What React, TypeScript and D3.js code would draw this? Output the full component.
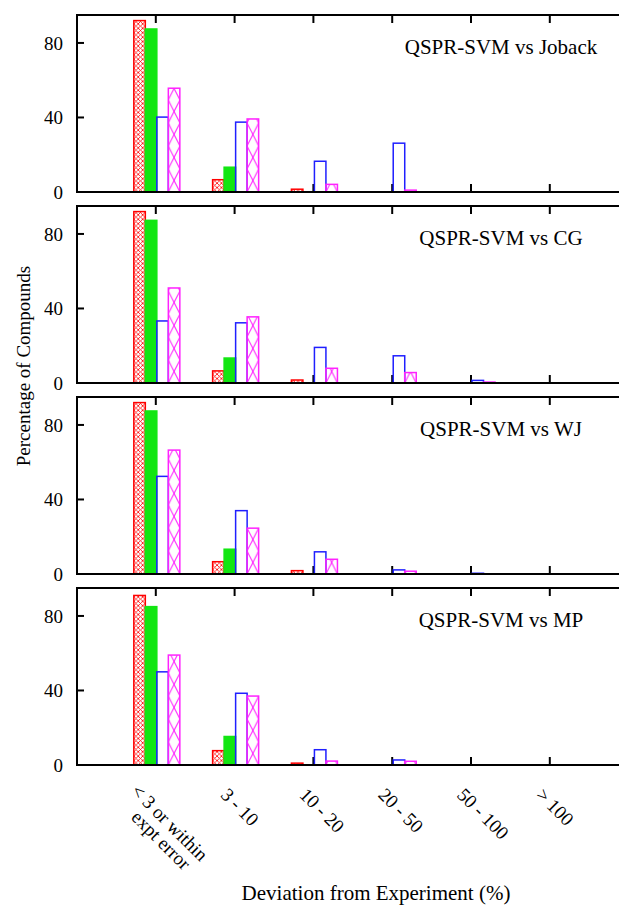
import React from "react";
import * as d3 from "d3";

const categories = ["< 3 or within\nexpt error", "3 - 10", "10 - 20", "20 - 50", "50 - 100", "> 100"];
const seriesKeys = ["dense", "solid", "empty", "cross"];
const seriesColors = ["#ff0000", "#12e612", "#1f1fff", "#ff22ff"];
const yTicks = [0, 40, 80];
const panelTitles = ["QSPR-SVM vs Joback", "QSPR-SVM vs CG", "QSPR-SVM vs WJ", "QSPR-SVM vs MP"];

const jobackRed = [92, 6.6, 1.5, 0, 0, 0];
const jobackGreen = [87.5, 13.3, 0, 0, 0, 0];
const jobackBlue = [40.2, 37.5, 16.5, 26.2, 0, 0];
const jobackMagenta = [55.7, 39.2, 4.1, 1.0, 0, 0];

const cgRed = [92, 6.5, 1.6, 0, 0, 0];
const cgGreen = [87.3, 13.4, 0, 0, 0, 0];
const cgBlue = [33.3, 32.3, 19.1, 14.6, 1.4, 0];
const cgMagenta = [51, 35.5, 7.9, 5.6, 0.5, 0];

const wjRed = [92, 6.6, 1.8, 0, 0, 0];
const wjGreen = [87.5, 13.3, 0, 0, 0, 0];
const wjBlue = [52.4, 34, 11.9, 2.2, 0.4, 0];
const wjMagenta = [66.5, 24.6, 7.9, 1.5, 0, 0];

const mpRed = [91, 7.7, 1.0, 0, 0, 0];
const mpGreen = [85, 15.3, 0, 0, 0, 0];
const mpBlue = [50, 38.5, 8.2, 2.7, 0, 0];
const mpMagenta = [59, 37, 2.1, 2.0, 0, 0];

const panelData = [
  [jobackRed, jobackGreen, jobackBlue, jobackMagenta],
  [cgRed, cgGreen, cgBlue, cgMagenta],
  [wjRed, wjGreen, wjBlue, wjMagenta],
  [mpRed, mpGreen, mpBlue, mpMagenta],
];

const W = 619;
const H = 906;
const FONT = "'Liberation Serif', 'Times New Roman', serif";

export default function App() {
  const left = 77;
  const unit = 78.8;
  const x = d3.scaleLinear().domain([0, 7]).range([left, left + 7 * unit]);
  const panelTops = [15, 206, 397, 588];
  const panelH = 177;

  const band = (i: number) =>
    d3
      .scaleBand<string>()
      .domain(seriesKeys)
      .range([x(i + 1) - 0.279 * unit, x(i + 1) + 0.305 * unit])
      .paddingInner(0)
      .paddingOuter(0);

  const defs: React.ReactNode[] = [];
  const panels = panelTops.map((top, p) => {
    const y = d3.scaleLinear().domain([0, 95]).range([top + panelH, top]);
    const bars: React.ReactNode[] = [];
    categories.forEach((_, i) => {
      const b = band(i);
      seriesKeys.forEach((k, s) => {
        const v = panelData[p][s][i];
        if (v <= 0) return;
        const bx = b(k) as number;
        const bw = b.bandwidth();
        const by = y(v);
        const bh = y(0) - by;
        const col = seriesColors[s];
        let fill = "none";
        if (k === "solid") fill = col;
        if (k === "dense" || k === "cross") {
          const id = `pat-${p}-${i}-${s}`;
          const pw = k === "dense" ? bw / 2.6 : bw;
          const ph = k === "dense" ? bw / 2.6 : bw * 2;
          defs.push(
            <pattern key={id} id={id} patternUnits="userSpaceOnUse" x={bx} y={y(0)} width={pw} height={ph}>
              <line x1={0} y1={0} x2={pw} y2={ph} stroke={col} strokeWidth={k === "dense" ? 0.8 : 1} />
              <line x1={pw} y1={0} x2={0} y2={ph} stroke={col} strokeWidth={k === "dense" ? 0.8 : 1} />
            </pattern>
          );
          fill = `url(#${id})`;
        }
        bars.push(
          <rect
            key={`b-${i}-${s}`}
            x={bx}
            y={by}
            width={bw}
            height={bh}
            fill={fill}
            stroke={col}
            strokeWidth={1.5}
          />
        );
      });
    });
    const bottom = top + panelH;
    return (
      <g key={p}>
        {categories.map((_, i) => (
          <g key={`t-${i}`}>
            <line x1={x(i + 1)} x2={x(i + 1)} y1={bottom} y2={bottom - 8} stroke="#000" strokeWidth={2} />
            <line x1={x(i + 1)} x2={x(i + 1)} y1={top} y2={top + 8} stroke="#000" strokeWidth={2} />
          </g>
        ))}
        {bars}
        {yTicks.map((t) => (
          <g key={`y-${t}`}>
            <line x1={left} x2={left + 7} y1={y(t)} y2={y(t)} stroke="#000" strokeWidth={2} />
            <text x={63} y={y(t)} dy="0.35em" textAnchor="end" fontSize={19} fontFamily={FONT}>
              {t}
            </text>
          </g>
        ))}
        <rect x={left} y={top} width={7 * unit} height={panelH} fill="none" stroke="#000" strokeWidth={2} />
        <text x={501} y={top + 38.5} textAnchor="middle" fontSize={21} fontFamily={FONT}>
          {panelTitles[p]}
        </text>
      </g>
    );
  });

  return (
    <svg width={W} height={H} style={{ position: "absolute", left: 0, top: 0, background: "#fff" }}>
      <rect x={0} y={0} width={W} height={H} fill="#fff" />
      <defs>{defs}</defs>
      {panels}
      {categories.map((c, i) => {
        const lines = c.split("\n");
        const ax = x(i + 1) - 14.9;
        const ay = 795.9;
        if (lines.length === 1) {
          return (
            <text key={c} transform={`translate(${ax},${ay}) rotate(45)`} fontSize={19} fontFamily={FONT}>
              {c}
            </text>
          );
        }
        return (
          <text key={c} transform={`translate(${ax},${ay}) rotate(45)`} fontSize={19} fontFamily={FONT}>
            <tspan x={-10} y={5}>{lines[0]}</tspan>
            <tspan x={8.4} y={23.3}>{lines[1]}</tspan>
          </text>
        );
      })}
      <text x={376} y={900} textAnchor="middle" fontSize={21} fontFamily={FONT}>
        Deviation from Experiment (%)
      </text>
      <text transform="translate(30,366) rotate(-90)" textAnchor="middle" fontSize={19} fontFamily={FONT}>
        Percentage of Compounds
      </text>
    </svg>
  );
}
